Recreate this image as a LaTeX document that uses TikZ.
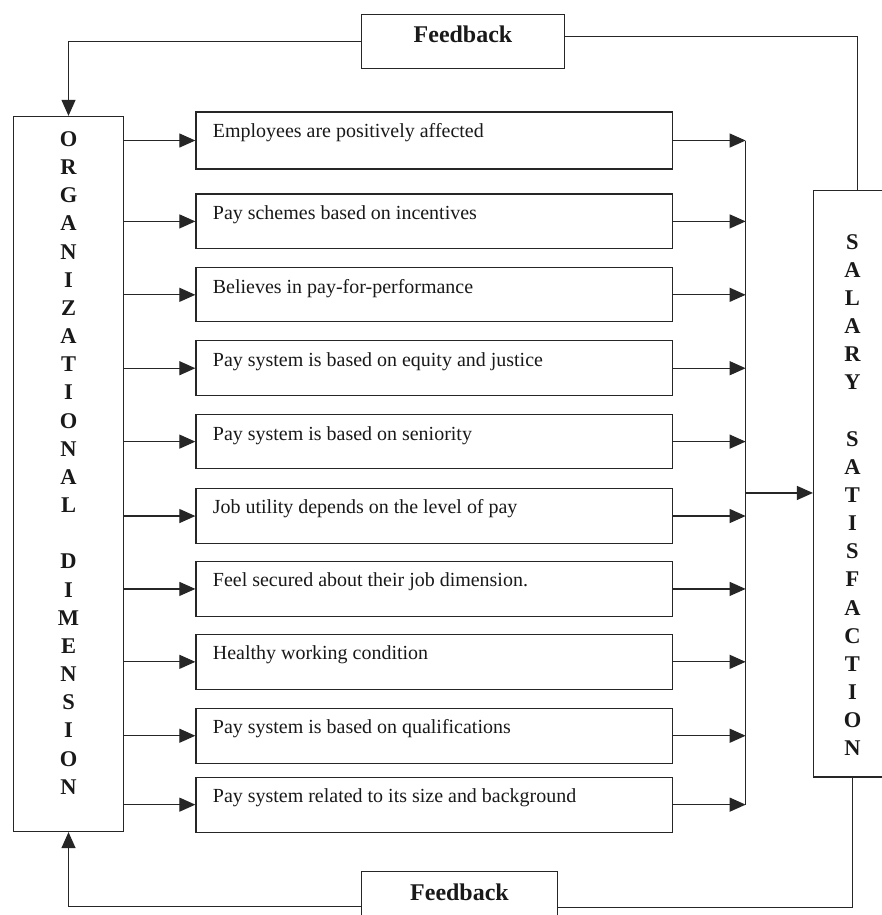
\documentclass[tikz,border=0pt]{standalone}
\usepackage{fontspec}
\setmainfont{Liberation Serif}
\usetikzlibrary{arrows.meta,calc}
\begin{document}
\begin{tikzpicture}[x=1pt,y=-1pt,
  line width=1.2pt,
  every path/.style={draw=black!85},
  arr/.style={-{Triangle[length=16pt,width=14pt]}},
  itembox/.style={draw=black!85, line width=1.2pt, minimum width=477pt, inner sep=0pt, anchor=north west},
  itemtext/.style={anchor=base west, inner sep=0pt, font=\fontsize{20}{24}\selectfont, text=black!90},
  bigbox/.style={draw=black!85, line width=1.2pt, inner sep=0pt},
  letter/.style={anchor=base, inner sep=0pt, font=\fontsize{22.5}{26}\selectfont\bfseries, text=black!90},
  fbtext/.style={anchor=base, inner sep=0pt, font=\fontsize{24}{28}\selectfont\bfseries, text=black!90}
]
\useasboundingbox (0,0) rectangle (881,915);
\fill[white] (0,0) rectangle (881,915);

% side boxes
\node[bigbox, minimum width=110pt, minimum height=716pt] (L) at (68,474) {};
\node[bigbox, minimum width=78pt, minimum height=587pt] (R) at (853,484) {};

\foreach \c [count=\i from 0] in {O,R,G,A,N,I,Z,A,T,I,O,N,A,L,{},D,I,M,E,N,S,I,O,N}
  \node[letter] (l\i) at (68,146+\i*28.2) {\c};
\foreach \c [count=\i from 0] in {S,A,L,A,R,Y,{},S,A,T,I,S,F,A,C,T,I,O,N}
  \node[letter] (r\i) at (853,249+\i*28.17) {\c};

% feedback boxes
\node[bigbox, minimum width=204pt, minimum height=54pt] (fb1) at (463,41) {};
\node[fbtext] (fbt1) at ($(fb1.north)+(0,29)$) {Feedback};
\node[bigbox, minimum width=197pt, minimum height=54pt] (fb2) at (459.5,899) {};
\node[fbtext] (fbt2) at ($(fb2.north)+(0,30)$) {Feedback};

% bus
\coordinate (bus) at (746,493);

% item boxes
\foreach \t/\h/\txt [count=\i] in {
  111/57/Employees are positively affected,
  193/55/Pay schemes based on incentives,
  267/54/Believes in pay-for-performance,
  340/55/Pay system is based on equity and justice,
  414/54/Pay system is based on seniority,
  488/55/Job utility depends on the level of pay,
  561/55/Feel secured about their job dimension.,
  634/55/Healthy working condition,
  708/55/Pay system is based on qualifications,
  777/55/Pay system related to its size and background}
{
  \node[itembox, minimum height=\h pt] (b\i) at (195,\t) {};
  \node[itemtext] (t\i) at ($(b\i.north west)+(17,26)$) {\txt};
  \draw[arr] (b\i.west -| L.east) -- (b\i.west);
  \draw[arr] (b\i.east) -- (b\i.east -| bus);
}

\draw (b1.east -| bus) -- (b10.east -| bus);
\draw[arr] (bus) -- (bus -| R.west);

% feedback loops
\draw[arr] (fb1.west) -| (L.north);
\draw ($(fb1.east)+(0,-5)$) -| ($(R.north)+(5,0)$);
\draw (R.south) |- ($(fb2.east)+(0,9)$);
\draw[arr] ($(fb2.west)+(0,8)$) -| (L.south);
\end{tikzpicture}
\end{document}
